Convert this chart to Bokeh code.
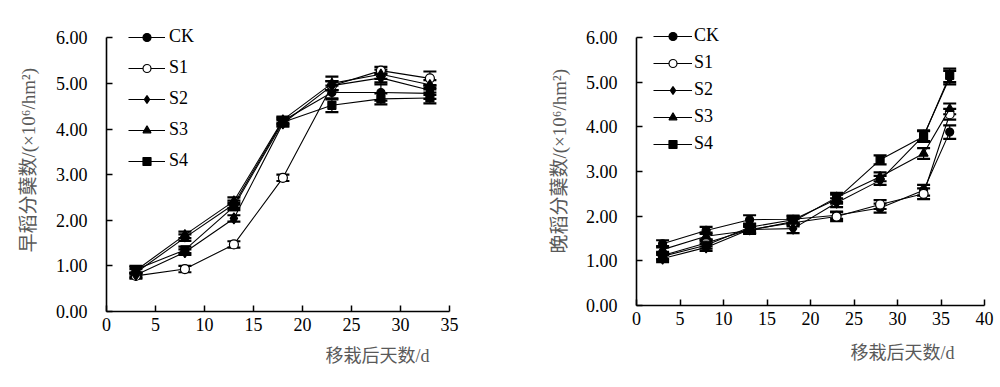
from bokeh.plotting import figure
from bokeh.models import (ColumnDataSource, Whisker, TeeHead, FixedTicker,
                          Legend, LegendItem, Title)
from bokeh.layouts import row
from bokeh.embed import file_html
from bokeh.resources import INLINE

# ---------------- data ----------------
series_names = ["CK", "S1", "S2", "S3", "S4"]

early_days = [3, 8, 13, 18, 23, 28, 33]
early_ck = [0.85, 1.62, 2.35, 4.18, 4.80, 4.80, 4.78]
early_s1 = [0.78, 0.93, 1.47, 2.93, 4.95, 5.28, 5.11]
early_s2 = [0.80, 1.30, 2.04, 4.12, 4.95, 5.12, 4.85]
early_s3 = [0.90, 1.68, 2.42, 4.20, 5.00, 5.20, 4.97]
early_s4 = [0.92, 1.35, 2.30, 4.15, 4.52, 4.66, 4.68]
early_ck_err = [0.08, 0.07, 0.08, 0.07, 0.15, 0.18, 0.12]
early_s1_err = [0.06, 0.07, 0.07, 0.07, 0.10, 0.08, 0.15]
early_s2_err = [0.06, 0.06, 0.07, 0.07, 0.10, 0.10, 0.10]
early_s3_err = [0.08, 0.07, 0.08, 0.07, 0.15, 0.10, 0.10]
early_s4_err = [0.08, 0.07, 0.08, 0.07, 0.15, 0.12, 0.12]

late_days = [3, 8, 13, 18, 23, 28, 33, 36]
late_ck = [1.38, 1.68, 1.92, 1.93, 2.02, 2.18, 2.58, 3.88]
late_s1 = [1.12, 1.40, 1.70, 1.85, 1.99, 2.26, 2.50, 4.28]
late_s2 = [1.05, 1.30, 1.70, 1.72, 2.30, 2.80, 3.80, 5.10]
late_s3 = [1.25, 1.55, 1.68, 1.88, 2.42, 2.88, 3.40, 4.40]
late_s4 = [1.10, 1.35, 1.75, 1.92, 2.38, 3.26, 3.78, 5.15]
late_ck_err = [0.08, 0.08, 0.10, 0.08, 0.08, 0.10, 0.12, 0.15]
late_s1_err = [0.08, 0.08, 0.08, 0.08, 0.10, 0.10, 0.12, 0.12]
late_s2_err = [0.08, 0.08, 0.08, 0.10, 0.10, 0.10, 0.12, 0.15]
late_s3_err = [0.08, 0.08, 0.08, 0.08, 0.10, 0.10, 0.12, 0.12]
late_s4_err = [0.08, 0.08, 0.08, 0.08, 0.10, 0.10, 0.12, 0.15]

y_ticks = [0, 1, 2, 3, 4, 5, 6]
y_tick_labels = ["0.00", "1.00", "2.00", "3.00", "4.00", "5.00", "6.00"]
early_x_ticks = [0, 5, 10, 15, 20, 25, 30, 35]
early_x_labels = ["0", "5", "10", "15", "20", "25", "30", "35"]
late_x_ticks = [0, 5, 10, 15, 20, 25, 30, 35, 40]
late_x_labels = ["0", "5", "10", "15", "20", "25", "30", "35", "40"]

early_ylabel = "早稻分蘖数/(×10⁶/hm²)"
late_ylabel = "晚稻分蘖数/(×10⁶/hm²)"
xlabel = "移栽后天数/d"

# ---------------- styling ----------------
markers = {"CK": ("circle", 8, "black"), "S1": ("circle", 9, "white"),
           "S2": ("diamond", 11, "black"), "S3": ("triangle", 9, "black"),
           "S4": ("square", 8, "black")}
CJK_FONT = "'Liberation Serif', 'Noto Sans CJK SC'"
GRAY = "#595959"


def make_plot(days, ys, errs, xmax, xticks, xlabels, frame_w, frame_h,
              bl, br, bb, ylabel_text, yl, xl, leg):
    p = figure(frame_width=frame_w, frame_height=frame_h,
               x_range=(0, xmax), y_range=(0, 6.4),
               output_backend="svg", toolbar_location=None,
               min_border_left=bl, min_border_right=br,
               min_border_top=19, min_border_bottom=bb)
    p.xgrid.visible = False
    p.ygrid.visible = False
    p.outline_line_color = None
    p.background_fill_color = "white"
    p.border_fill_color = "white"

    for ax, ticks, labels in ((p.xaxis[0], xticks, xlabels),
                              (p.yaxis[0], y_ticks, y_tick_labels)):
        ax.ticker = FixedTicker(ticks=ticks)
        ax.major_label_overrides = {t: l for t, l in zip(ticks, labels)}
        ax.axis_line_width = 1.6
        ax.axis_line_color = "black"
        ax.major_tick_in = 6
        ax.major_tick_out = 0
        ax.major_tick_line_width = 1.5
        ax.minor_tick_line_color = None
        ax.major_label_text_font = "Liberation Serif"
        ax.major_label_text_font_size = "18px"
        ax.major_label_text_color = "black"
    p.yaxis.bounds = (0, 6)
    p.yaxis.major_label_standoff = 19
    p.xaxis.major_label_standoff = 6

    items = []
    for name, yv, ev in zip(series_names, ys, errs):
        src = ColumnDataSource(dict(x=days, y=yv,
                                    upper=[a + b for a, b in zip(yv, ev)],
                                    lower=[a - b for a, b in zip(yv, ev)]))
        lr = p.line("x", "y", source=src, line_color="black", line_width=1.1)
        w = Whisker(source=src, base="x", upper="upper", lower="lower",
                    dimension="height", line_color="black", line_width=1.2,
                    upper_head=TeeHead(size=13, line_width=2.2, line_color="black"),
                    lower_head=TeeHead(size=13, line_width=2.2, line_color="black"))
        p.add_layout(w)
        m, s, fc = markers[name]
        sr = p.scatter("x", "y", source=src, marker=m, size=s,
                       fill_color=fc, line_color="black", line_width=1.2)
        items.append(LegendItem(label=name, renderers=[lr, sr]))

    legend = Legend(items=items, location=leg["loc"],
                    glyph_width=leg["gw"], glyph_height=20,
                    spacing=leg["sp"], padding=0, margin=0,
                    label_standoff=leg["so"], label_height=20,
                    border_line_alpha=0, background_fill_alpha=0,
                    label_text_font="Liberation Serif",
                    label_text_font_size="18px", label_text_color="black")
    p.add_layout(legend)

    p.add_layout(Title(text=ylabel_text, align="left", offset=yl[0],
                       standoff=yl[1], text_font=CJK_FONT,
                       text_font_size="19px", text_font_style="normal",
                       text_color=GRAY), "left")
    p.add_layout(Title(text=xlabel, align="left", offset=xl[0],
                       standoff=xl[1], text_font=CJK_FONT,
                       text_font_size="18px", text_font_style="normal",
                       text_color=GRAY), "below")
    return p


p1 = make_plot(early_days, [early_ck, early_s1, early_s2, early_s3, early_s4],
               [early_ck_err, early_s1_err, early_s2_err, early_s3_err, early_s4_err],
               35, early_x_ticks, early_x_labels, 343, 292, 106, 61, 59,
               early_ylabel, (59, 28), (219, 21),
               dict(loc=(22, 140), gw=37, sp=10, so=4))
p2 = make_plot(late_days, [late_ck, late_s1, late_s2, late_s3, late_s4],
               [late_ck_err, late_s1_err, late_s2_err, late_s3_err, late_s4_err],
               40, late_x_ticks, late_x_labels, 348, 286, 126, 12, 65,
               late_ylabel, (52, 25), (214, 26),
               dict(loc=(17, 151), gw=39, sp=6, so=2))

layout = row(p1, p2)
open("out.html", "w").write(file_html(layout, INLINE))
